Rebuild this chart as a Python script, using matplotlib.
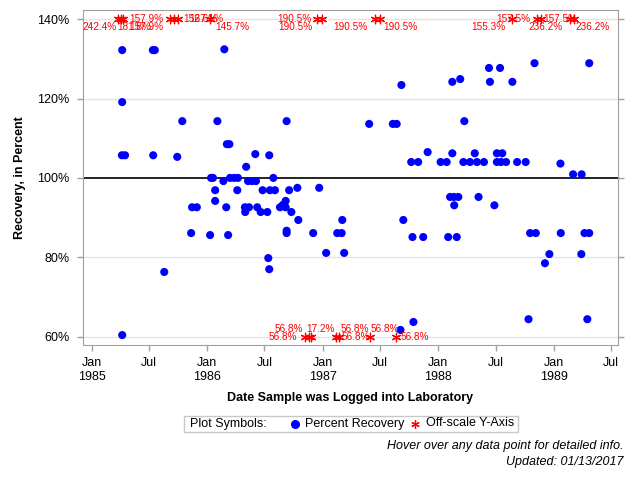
import matplotlib
matplotlib.use('Agg')
import matplotlib.pyplot as plt
import matplotlib.dates as mdates
from matplotlib.patches import Rectangle
from matplotlib.ticker import FixedLocator, FuncFormatter
import pandas as pd

plt.rcParams['font.family'] = ['Liberation Sans', 'DejaVu Sans']

# percent recovery, on-scale samples
rec_dates = ['1985-04-07', '1985-07-13', '1985-07-19', '1986-02-24', '1985-04-07',
             '1985-10-14', '1986-02-02', '1986-03-04', '1986-03-12', '1985-04-06',
             '1985-04-16', '1985-07-14', '1985-09-28', '1986-06-02', '1986-05-04',
             '1986-01-13', '1986-01-19', '1986-03-14', '1986-03-27', '1986-04-08',
             '1986-02-21', '1986-05-10', '1986-05-23', '1986-06-04', '1986-07-29',
             '1986-01-26', '1986-04-06', '1986-06-25', '1986-07-18', '1986-08-03',
             '1986-09-17', '1986-10-13', '1986-12-21', '1986-01-26', '1985-11-14',
             '1985-11-29', '1986-03-02', '1986-04-30', '1986-05-13', '1986-05-01',
             '1986-06-08', '1986-06-19', '1986-07-10', '1986-08-19', '1986-08-28',
             '1986-09-06', '1986-09-06', '1986-09-24', '1986-10-16', '1986-09-09',
             '1986-09-09', '1985-11-11', '1986-01-10', '1986-03-08', '1986-12-02',
             '1987-02-16', '1987-03-02', '1987-03-04', '1987-01-12', '1987-03-10',
             '1986-07-13', '1986-07-16', '1985-08-18', '1985-04-07', '1987-09-13',
             '1987-10-12', '1987-10-15', '1987-09-04', '1986-09-09', '1986-07-16',
             '1987-05-28', '1987-08-11', '1987-08-23', '1987-09-07', '1987-10-08',
             '1987-10-30', '1988-02-15', '1988-03-11', '1988-06-10', '1988-07-15',
             '1988-06-13', '1988-08-23', '1988-11-01', '1989-04-23', '1988-03-24',
             '1987-11-29', '1988-02-15', '1988-04-26', '1988-07-05', '1988-07-22',
             '1988-01-09', '1988-01-28', '1988-03-21', '1988-04-11', '1988-05-03',
             '1988-05-25', '1988-07-05', '1988-07-18', '1988-08-03', '1988-09-07',
             '1988-10-04', '1989-01-22', '1989-03-03', '1989-03-30', '1988-02-08',
             '1988-02-20', '1988-03-05', '1988-02-21', '1988-05-08', '1988-06-27',
             '1987-11-15', '1988-02-02', '1988-02-29', '1988-10-18', '1988-11-05',
             '1989-01-23', '1989-04-08', '1989-04-23', '1988-12-18', '1988-12-04',
             '1989-03-29', '1988-10-13', '1989-04-17']
rec_pct = [132.2, 132.2, 132.2, 132.4, 119.1,
           114.3, 114.3, 108.5, 108.5, 105.7,
           105.7, 105.7, 105.3, 106.0, 102.8,
           100.0, 100.0, 100.0, 100.0, 100.0,
           99.2, 99.2, 99.2, 99.2, 100.0,
           96.9, 96.9, 96.9, 96.9, 96.9,
           96.9, 97.5, 97.5, 94.2, 92.6,
           92.6, 92.6, 92.6, 92.6, 91.4,
           92.6, 91.4, 91.4, 92.6, 93.2,
           94.2, 92.6, 91.4, 89.4, 86.7,
           86.1, 86.1, 85.6, 85.6, 86.1,
           86.1, 86.1, 89.4, 81.1, 81.1,
           79.8, 77.0, 76.3, 60.4, 89.4,
           85.1, 63.7, 61.7, 114.3, 105.7,
           113.6, 113.6, 113.6, 123.4, 104.0,
           104.0, 124.2, 124.9, 127.7, 127.7,
           124.2, 124.2, 128.9, 128.9, 114.3,
           106.5, 106.2, 106.2, 106.2, 106.2,
           104.0, 104.0, 104.0, 104.0, 104.0,
           104.0, 104.0, 104.0, 104.0, 104.0,
           104.0, 103.6, 100.9, 100.9, 95.2,
           95.2, 95.2, 93.1, 95.2, 93.1,
           85.1, 85.1, 85.1, 86.1, 86.1,
           86.1, 86.1, 86.1, 80.8, 78.5,
           80.8, 64.4, 64.4]

# off-scale samples (value shown as label)
off_dates = ['1985-03-25', '1985-04-03', '1985-04-09', '1985-09-05', '1985-09-18',
             '1985-09-30', '1986-01-09', '1986-12-14', '1986-12-30', '1987-06-15',
             '1987-07-01', '1988-08-22', '1988-11-09', '1988-11-22', '1989-02-21',
             '1989-03-06', '1986-11-06', '1986-11-19', '1986-11-25', '1987-02-12',
             '1987-02-21', '1987-05-31', '1987-08-21']
off_pct = [242.4, 181.8, 157.9, 157.9, 152.6,
           167.1, 145.7, 190.5, 190.5, 190.5,
           190.5, 155.3, 157.5, 157.5, 236.2,
           236.2, 56.8, 56.8, 17.2, 56.8,
           56.8, 56.8, 56.8]

# label placement for the off-scale labels (pixels)
off_row = ['in', 'in', 'side', 'in', 'side', 'side', 'in', 'side', 'in', 'in',
           'in', 'in', 'side', 'side', 'in', 'in', 'side', 'in', 'in', 'side',
           'in', 'in', 'side']
off_ha = ['right', 'left', 'left', 'right', 'left', 'left', 'left', 'right', 'right', 'right',
          'left', 'right', 'right', 'left', 'right', 'left', 'right', 'right', 'left', 'left',
          'left', 'left', 'left']
off_dx = [-1, -4, 6, -7, 9, 11, 5, -5, -10, -7,
          3, -7, -7, 2, -7, 1, -8, -6, -5, 6,
          2, 0, 5]

ymin_scale, ymax_scale = 60, 140

fig = plt.figure(figsize=(6.4, 4.8), dpi=100)
W, H = 640, 480
ax = fig.add_axes([83 / W, 1 - 345 / H, (618 - 83) / W, (345 - 10) / H])

x = pd.to_datetime(rec_dates)
ax.scatter(x, rec_pct, s=34, color='#0000FF', edgecolors='none', zorder=3)

xo = pd.to_datetime(off_dates)
yo = [ymax_scale if v > ymax_scale else ymin_scale for v in off_pct]
ax.scatter(xo, yo, marker=(6, 2, 0), s=38, color='red', linewidths=0.9, zorder=4)

px = 0.72
for d, v, yy, row, ha, dx in zip(xo, off_pct, yo, off_row, off_ha, off_dx):
    dy = 0
    if row == 'in':
        dy = -8 if yy == ymax_scale else 8
    ax.annotate(f'{v:.1f}%', (mdates.date2num(d), yy), xytext=(dx * px, dy * px),
                textcoords='offset points', ha=ha, va='center', color='red',
                fontsize=7.2, zorder=5, annotation_clip=False)

ax.axhline(100, color='black', lw=1.2, zorder=2)

ax.set_ylim(57.9, 142.3)
ax.set_xlim(mdates.date2num(pd.Timestamp('1984-12-04')), mdates.date2num(pd.Timestamp('1989-07-23')))

yticks = [60, 80, 100, 120, 140]
ax.set_yticks(yticks)
ax.yaxis.set_major_formatter(FuncFormatter(lambda v, p: f'{v:.0f}%'))
for yv in [60, 80, 120, 140]:
    ax.axhline(yv, color='#E4E4E4', lw=1, zorder=1)

xt = pd.date_range('1985-01-01', '1989-07-01', freq='6MS')
ax.xaxis.set_major_locator(FixedLocator(mdates.date2num(xt)))
ax.xaxis.set_major_formatter(FuncFormatter(
    lambda v, p: mdates.num2date(v).strftime('Jan\n%Y') if mdates.num2date(v).month == 1 else 'Jul'))

for s in ax.spines.values():
    s.set_color('#A0A0A0')
ax.spines['top'].set_color('#A0A0A0')
ax.tick_params(axis='both', colors='#A0A0A0', labelcolor='black', labelsize=9, length=4.5, width=1)
ax.tick_params(axis='y', right=True, pad=5)
ax.tick_params(axis='x', pad=4)

fig.text(20 / W, 1 - 178 / H, 'Recovery, in Percent', rotation=90, ha='center', va='center',
         fontsize=9, fontweight='bold')
fig.text(350 / W, 1 - 398 / H, 'Date Sample was Logged into Laboratory', ha='center', va='center',
         fontsize=9, fontweight='bold')

# legend box
fig.patches.append(Rectangle((184 / W, 1 - 432 / H), (518 - 184) / W, 16 / H,
                             transform=fig.transFigure, fill=False, edgecolor='#C8C8C8', lw=1))
ly = 1 - 423.5 / H
fig.text(190 / W, ly, 'Plot Symbols:', ha='left', va='center', fontsize=9)
fig.lines.append(plt.Line2D([294.5 / W], [ly], marker='o', markersize=5.5, color='#0000FF',
                            transform=fig.transFigure))
fig.text(305 / W, ly, 'Percent Recovery', ha='left', va='center', fontsize=9)
fig.lines.append(plt.Line2D([414.5 / W], [ly], marker=(6, 2, 0), markersize=6, color='red',
                            markeredgewidth=0.9, transform=fig.transFigure))
fig.text(426 / W, ly, 'Off-scale Y-Axis', ha='left', va='center', fontsize=9)

fig.text(624 / W, 1 - 446.5 / H, 'Hover over any data point for detailed info.', ha='right',
         va='center', fontsize=9, style='italic')
fig.text(624 / W, 1 - 462.5 / H, 'Updated: 01/13/2017', ha='right', va='center', fontsize=9,
         style='italic')

fig.savefig('out.png', dpi=100)
